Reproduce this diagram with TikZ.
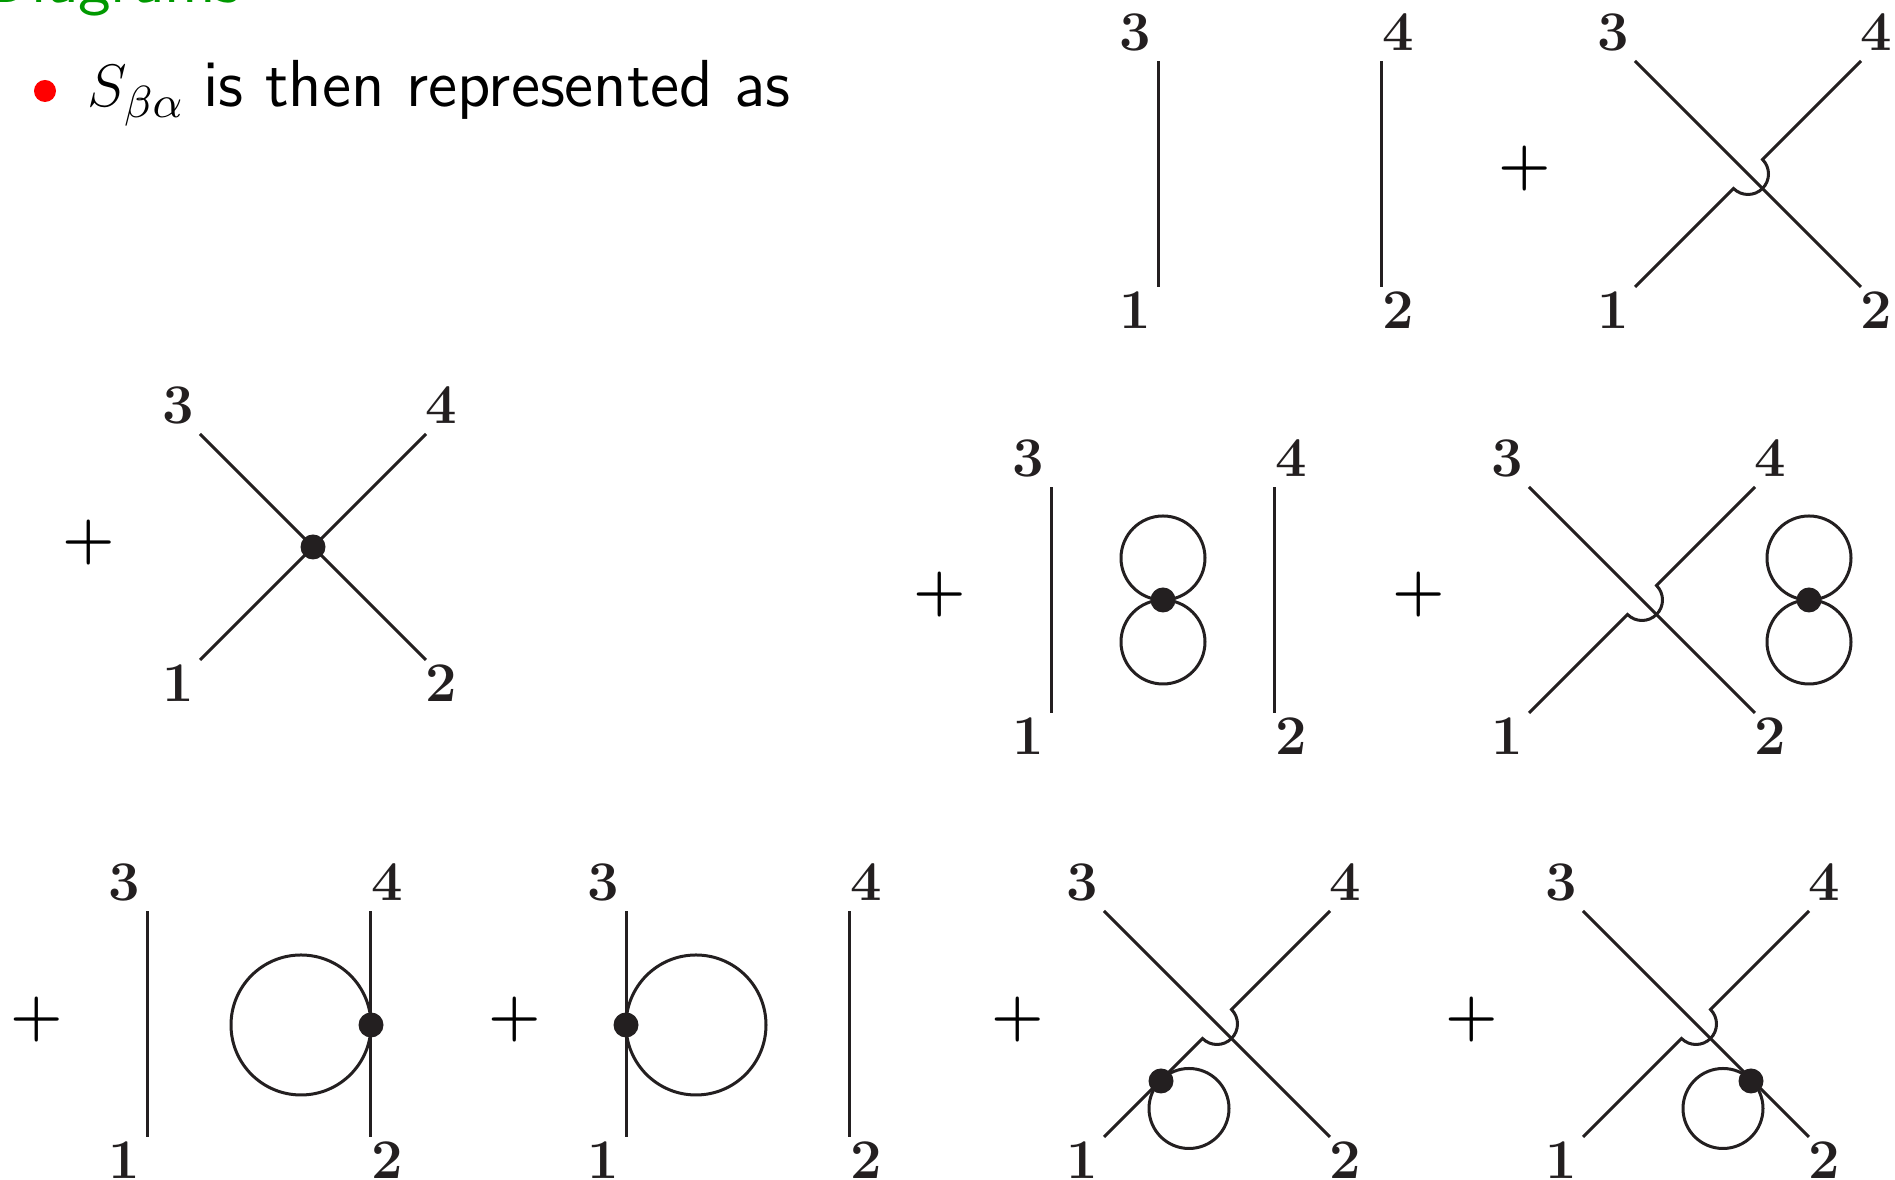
\documentclass[tikz,border=0pt]{standalone}
\usepackage{amsmath,amssymb}
\usetikzlibrary{positioning,calc}
\definecolor{inkdark}{RGB}{35,31,32}
\definecolor{titlegreen}{RGB}{0,153,0}
\tikzset{
  leg/.style={line width=0.6pt, inkdark},
  ring/.style={line width=0.6pt, inkdark},
  vertexdot/.style={circle, fill=inkdark, minimum size=5pt, inner sep=0pt},
  bulletdot/.style={circle, fill=red, minimum size=4.4pt, inner sep=0pt},
  endlabel/.style={font=\fontsize{11.2}{13}\selectfont\bfseries, text=inkdark, inner sep=0pt},
  plussign/.style={font=\fontsize{11.6}{14}\selectfont\boldmath, text=black, inner sep=0pt},
  slidetext/.style={font=\fontsize{13.3}{15}\selectfont\sffamily, anchor=base west, inner sep=0pt}
}
% corners, labels and jump ends of one graph
\newcommand{\graphframe}[3]{
  \begin{scope}[shift={(#2,#3)}]
    \coordinate (#1c) at (0,0);
    \coordinate (#1a) at (-113,113);
    \coordinate (#1b) at (113,113);
    \coordinate (#1d) at (-113,-113);
    \coordinate (#1e) at (113,-113);
    \coordinate (#1f) at (-111.7,113);
    \coordinate (#1g) at (111.7,113);
    \coordinate (#1h) at (-111.7,-113);
    \coordinate (#1i) at (111.7,-113);
    \coordinate (#1p) at (14.5,-14.5);
    \coordinate (#1q) at (-14.5,14.5);
    \node[endlabel] (#1one) at (-135,136) {1};
    \node[endlabel] (#1two) at (128,136) {2};
    \node[endlabel] (#1three) at (-135,-141.5) {3};
    \node[endlabel] (#1four) at (128,-141.5) {4};
  \end{scope}
}
\newcommand{\straightlegs}[1]{
  \draw[leg] (#1f) -- (#1h);
  \draw[leg] (#1g) -- (#1i);
}
\newcommand{\crossedlegs}[1]{
  \draw[leg] (#1d) -- (#1b);
  \draw[leg] (#1a) -- (#1q) arc[start angle=135, end angle=-45, radius=20.5] -- (#1e);
}
% two loops sitting on one vertex
\newcommand{\doubleloop}[3]{
  \node[vertexdot] (#1) at (#2,#3) {};
  \draw[ring] (#1) ++(0,-42) circle[radius=42];
  \draw[ring] (#1) ++(0,42) circle[radius=42];
}

\begin{document}
\begin{tikzpicture}[x=0.2pt,y=-0.2pt]
  \clip (0,0) rectangle (1895,1180);

  \node[slidetext, text=titlegreen] (title) at (-16,3) {Diagrams};
  \node[bulletdot] (bullet) at (45,91) {};
  \node[slidetext] (intro) at (87,107) {{\fontsize{13}{15}\selectfont$S_{\beta\alpha}$}\ \kern-0.6pt is then represented as};

  % first row
  \graphframe{ga}{1270}{174}
  \straightlegs{ga}
  \node[plussign] (plusa) at (1525,169) {$+$};
  \graphframe{gb}{1748}{174}
  \crossedlegs{gb}

  % second row
  \node[plussign] (plusb) at (89,543) {$+$};
  \graphframe{gc}{313}{547}
  \draw[leg] (gca) -- (gce);
  \draw[leg] (gcd) -- (gcb);
  \node[vertexdot] (dotc) at (gcc) {};
  \node[plussign] (plusc) at (940,595) {$+$};
  \graphframe{gd}{1163}{600}
  \straightlegs{gd}
  \doubleloop{dotd}{1163}{600}
  \node[plussign] (plusd) at (1419,595) {$+$};
  \graphframe{ge}{1642}{600}
  \crossedlegs{ge}
  \doubleloop{dote}{1809}{600}

  % third row
  \node[plussign] (pluse) at (37,1020) {$+$};
  \graphframe{gf}{259}{1024}
  \straightlegs{gf}
  \draw[ring] (301,1025) circle[radius=70];
  \node[vertexdot] (dotf) at (371,1025) {};
  \node[plussign] (plusf) at (515,1020) {$+$};
  \graphframe{gg}{738}{1024}
  \straightlegs{gg}
  \draw[ring] (696,1025) circle[radius=70];
  \node[vertexdot] (dotg) at (626,1025) {};
  \node[plussign] (plusg) at (1018,1020) {$+$};
  \graphframe{gh}{1217}{1024}
  \crossedlegs{gh}
  \draw[ring] (1189,1108.5) circle[radius=40];
  \node[vertexdot] (doth) at (1161,1081) {};
  \node[plussign] (plush) at (1472,1020) {$+$};
  \graphframe{gi}{1696}{1024}
  \crossedlegs{gi}
  \draw[ring] (1723,1108.5) circle[radius=40];
  \node[vertexdot] (doti) at (1751,1081) {};
\end{tikzpicture}
\end{document}
